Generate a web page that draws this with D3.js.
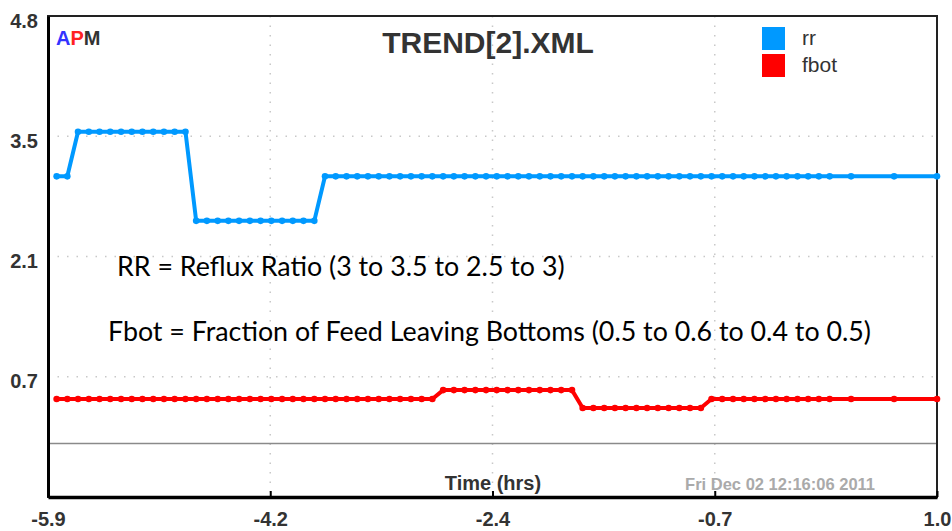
<!DOCTYPE html>
<html>
<head>
<meta charset="utf-8">
<script src="https://cdn.jsdelivr.net/npm/d3@7"></script>
<style>
body { margin: 0; background: #fff; }
text { font-family: "Liberation Sans", Arial, sans-serif; }
</style>
</head>
<body>
<script>
// time of each sample (hrs), 5 min steps then wider horizon steps
const timeHrs = [
    -5.833, -5.750, -5.667, -5.583, -5.500, -5.417, -5.333, -5.250, -5.167, -5.083,
    -5.000, -4.917, -4.833, -4.750, -4.667, -4.583, -4.500, -4.417, -4.333, -4.250,
    -4.167, -4.083, -4.000, -3.917, -3.833, -3.750, -3.667, -3.583, -3.500, -3.417,
    -3.333, -3.250, -3.167, -3.083, -3.000, -2.917, -2.833, -2.750, -2.667, -2.583,
    -2.500, -2.417, -2.333, -2.250, -2.167, -2.083, -2.000, -1.917, -1.833, -1.750,
    -1.667, -1.583, -1.500, -1.417, -1.333, -1.250, -1.167, -1.083, -1.000, -0.917,
    -0.833, -0.750, -0.667, -0.583, -0.500, -0.417, -0.333, -0.250, -0.167, -0.083,
    0.000, 0.083, 0.167, 0.333, 0.667, 1.000
];

const rrValues = [
    3, 3,
    3.5, 3.5, 3.5, 3.5, 3.5, 3.5, 3.5, 3.5, 3.5, 3.5, 3.5,
    2.5, 2.5, 2.5, 2.5, 2.5, 2.5, 2.5, 2.5, 2.5, 2.5, 2.5, 2.5,
    3, 3, 3, 3, 3, 3, 3, 3, 3, 3,
    3, 3, 3, 3, 3, 3, 3, 3, 3, 3,
    3, 3, 3, 3, 3, 3, 3, 3, 3, 3,
    3, 3, 3, 3, 3, 3, 3, 3, 3, 3,
    3, 3, 3, 3, 3, 3, 3, 3, 3, 3,
    3
];

const fbotValues = [
    0.5, 0.5, 0.5, 0.5, 0.5, 0.5, 0.5, 0.5, 0.5, 0.5,
    0.5, 0.5, 0.5, 0.5, 0.5, 0.5, 0.5, 0.5, 0.5, 0.5,
    0.5, 0.5, 0.5, 0.5, 0.5, 0.5, 0.5, 0.5, 0.5, 0.5,
    0.5, 0.5, 0.5, 0.5, 0.5, 0.5,
    0.6, 0.6, 0.6, 0.6, 0.6, 0.6, 0.6, 0.6, 0.6, 0.6, 0.6, 0.6, 0.6,
    0.4, 0.4, 0.4, 0.4, 0.4, 0.4, 0.4, 0.4, 0.4, 0.4, 0.4, 0.4,
    0.5, 0.5, 0.5, 0.5, 0.5, 0.5, 0.5, 0.5, 0.5, 0.5,
    0.5, 0.5, 0.5, 0.5, 0.5
];

const xTickValues = [-5.9, -4.175, -2.45, -0.725, 1.0];
const xTickLabels = ["-5.9", "-4.2", "-2.4", "-0.7", "1.0"];
const yTickValues = [4.8, 3.45, 2.1, 0.75];
const yTickLabels = ["4.8", "3.5", "2.1", "0.7"];

const seriesNames = ["rr", "fbot"];
const seriesColors = ["#0099ff", "#ff0000"];

const notes = [
    "RR = Reflux Ratio (3 to 3.5 to 2.5 to 3)",
    "Fbot = Fraction of Feed Leaving Bottoms (0.5 to 0.6 to 0.4 to 0.5)"
];

const margin = { top: 16, right: 15, bottom: 34, left: 48 };
const width = 952 - margin.left - margin.right;
const height = 531 - margin.top - margin.bottom;

const svg = d3.select("body").append("svg")
    .attr("width", width + margin.left + margin.right)
    .attr("height", height + margin.top + margin.bottom)
    .append("g")
    .attr("transform", "translate(" + margin.left + "," + margin.top + ")");

// scales
const x = d3.scaleLinear().domain([-5.9, 1.0]).range([0, width]);
const y = d3.scaleLinear().domain([-0.6, 4.8]).range([height, 0]);

// dotted grid
svg.selectAll(".grid-y")
    .data(yTickValues.slice(1))
    .enter().append("line")
    .attr("class", "grid-y")
    .attr("x1", 0).attr("x2", width)
    .attr("y1", d => y(d)).attr("y2", d => y(d))
    .attr("stroke", "#c8c8c8")
    .attr("stroke-width", 1.5)
    .attr("stroke-dasharray", "1.5,8");

svg.selectAll(".grid-x")
    .data(xTickValues.slice(1, -1))
    .enter().append("line")
    .attr("class", "grid-x")
    .attr("y1", 0).attr("y2", height)
    .attr("x1", d => x(d)).attr("x2", d => x(d))
    .attr("stroke", "#c8c8c8")
    .attr("stroke-width", 1.5)
    .attr("stroke-dasharray", "1.5,8");

// zero line
svg.append("line")
    .attr("x1", 0).attr("x2", width)
    .attr("y1", y(0)).attr("y2", y(0))
    .attr("stroke", "#8a8a8a")
    .attr("stroke-width", 1.5);

// frame
svg.append("rect")
    .attr("x", 0).attr("y", 0)
    .attr("width", width).attr("height", height)
    .attr("fill", "none")
    .attr("stroke", "#222")
    .attr("stroke-width", 2);

// axes
const xAxis = svg.append("g")
    .attr("transform", "translate(0," + height + ")")
    .call(d3.axisBottom(x)
        .tickValues(xTickValues)
        .tickFormat((d, i) => xTickLabels[i])
        .tickSizeInner(-6)
        .tickSizeOuter(0)
        .tickPadding(15));
xAxis.select(".domain").attr("stroke", "#000").attr("stroke-width", 3.5);
xAxis.selectAll(".tick line").attr("stroke", "#000").attr("stroke-width", 2);
xAxis.selectAll("text")
    .attr("font-size", "20px")
    .attr("font-weight", "bold")
    .attr("fill", "#333")
    .style("font-family", "'Liberation Sans', Arial, sans-serif");

const yAxis = svg.append("g")
    .call(d3.axisLeft(y)
        .tickValues(yTickValues)
        .tickFormat((d, i) => yTickLabels[i])
        .tickSize(0)
        .tickPadding(10));
yAxis.select(".domain").attr("stroke", "#000").attr("stroke-width", 3);
yAxis.selectAll("text")
    .attr("dy", "0.55em")
    .attr("font-size", "20px")
    .attr("font-weight", "bold")
    .attr("fill", "#333")
    .style("font-family", "'Liberation Sans', Arial, sans-serif");

// series
const seriesData = [rrValues, fbotValues].map((vals, k) => ({
    name: seriesNames[k],
    color: seriesColors[k],
    points: vals.map((v, i) => ({ t: timeHrs[i], v: v }))
}));

const line = d3.line()
    .x(d => x(d.t))
    .y(d => y(d.v));

seriesData.forEach(s => {
    svg.append("path")
        .datum(s.points)
        .attr("fill", "none")
        .attr("stroke", s.color)
        .attr("stroke-width", 4)
        .attr("stroke-linejoin", "round")
        .attr("d", line);

    svg.selectAll(".dot-" + s.name)
        .data(s.points)
        .enter().append("circle")
        .attr("class", "dot-" + s.name)
        .attr("cx", d => x(d.t))
        .attr("cy", d => y(d.v))
        .attr("r", 3.3)
        .attr("fill", s.color);
});

// title
svg.append("text")
    .attr("x", 440)
    .attr("y", 37)
    .attr("text-anchor", "middle")
    .attr("font-size", "30px")
    .attr("font-weight", "bold")
    .attr("fill", "#333")
    .text("TREND[2].XML");

// APM logo
const logo = svg.append("text")
    .attr("x", 8)
    .attr("y", 29)
    .attr("font-size", "20px")
    .attr("font-weight", "bold");
logo.append("tspan").attr("fill", "#3333ff").text("A");
logo.append("tspan").attr("fill", "#ff2222").text("P");
logo.append("tspan").attr("fill", "#333").text("M");

// legend
const legend = svg.append("g")
    .attr("transform", "translate(" + 714 + "," + 11 + ")");

legend.selectAll("rect")
    .data(seriesData)
    .enter().append("rect")
    .attr("x", 0)
    .attr("y", (d, i) => i * 27)
    .attr("width", 23)
    .attr("height", 23)
    .attr("fill", d => d.color);

legend.selectAll("text")
    .data(seriesData)
    .enter().append("text")
    .attr("x", 40)
    .attr("y", (d, i) => i * 27 + 18)
    .attr("font-size", "21px")
    .attr("fill", "#333")
    .text(d => d.name);

// annotations
svg.selectAll(".note")
    .data(notes)
    .enter().append("text")
    .attr("class", "note")
    .attr("x", (d, i) => i === 0 ? 69 : 60)
    .attr("y", (d, i) => i === 0 ? 260 : 325)
    .attr("font-size", "26.8px")
    .attr("fill", "#000")
    .style("font-family", "Lato, 'Open Sans', sans-serif")
    .text(d => d);

// axis title and timestamp
svg.append("text")
    .attr("x", 445)
    .attr("y", 474)
    .attr("text-anchor", "middle")
    .attr("font-size", "20px")
    .attr("font-weight", "bold")
    .attr("fill", "#333")
    .text("Time (hrs)");

svg.append("text")
    .attr("x", 827)
    .attr("y", 474)
    .attr("text-anchor", "end")
    .attr("font-size", "16.5px")
    .attr("font-weight", "bold")
    .attr("fill", "#aaa")
    .text("Fri Dec 02 12:16:06 2011");
</script>
</body>
</html>
